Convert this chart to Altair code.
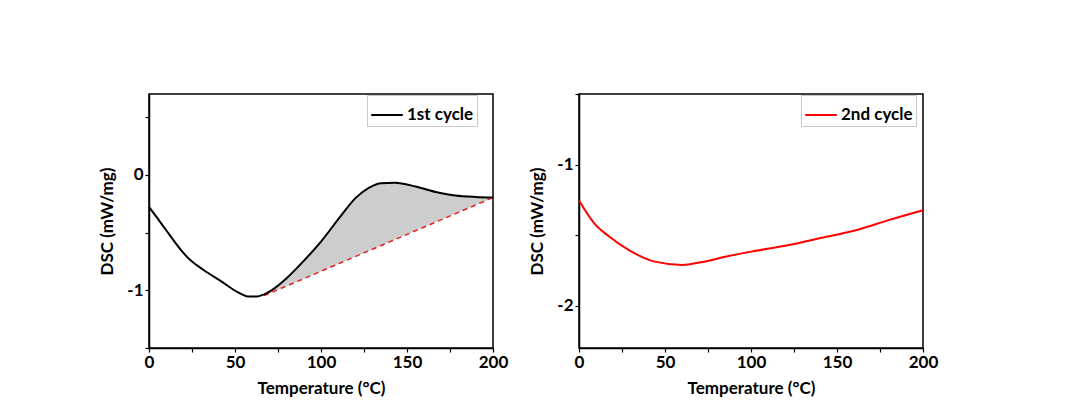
import altair as alt
import pandas as pd

# ---- data ----
c1_x = [0, 5, 10, 19.5, 22.5, 32, 42, 51.5, 57.5, 63, 67, 71, 80, 90, 100, 112, 120, 128, 135, 143,
        155, 168, 178, 190, 200]
c1_y = [-0.278, -0.378, -0.48, -0.668, -0.717, -0.827, -0.923, -1.016, -1.053, -1.053, -1.035, -1.003,
        -0.896, -0.745, -0.578, -0.347, -0.202, -0.110, -0.072, -0.069, -0.101, -0.153, -0.179, -0.192,
        -0.197]
base_x = [67, 200]
base_y = [-1.046, -0.197]

c2_x = [0, 9, 17, 29, 44, 60, 71, 87, 102, 122, 141, 161, 180, 200]
c2_y = [-1.254, -1.418, -1.505, -1.606, -1.688, -1.711, -1.692, -1.648, -1.613, -1.570, -1.519,
        -1.465, -1.394, -1.324]

x_ticks = [0, 25, 50, 75, 100, 125, 150, 175, 200]
y1_ticks = [-1.5, -1.0, -0.5, 0.0, 0.5]
y2_ticks = [-2.5, -2.0, -1.5, -1.0, -0.5]

FONT = "Lato"

df1 = pd.DataFrame({"T": c1_x, "DSC": c1_y, "series": "1st cycle"})
df2 = pd.DataFrame({"T": c2_x, "DSC": c2_y, "series": "2nd cycle"})
dfb = pd.DataFrame({"T": base_x, "DSC": base_y})


def base_at(t):
    return base_y[0] + (base_y[1] - base_y[0]) * (t - base_x[0]) / (base_x[1] - base_x[0])


area_rows = [{"T": t, "top": v, "bot": base_at(t)} for t, v in zip(c1_x, c1_y) if t >= base_x[0]]
dfa = pd.DataFrame(area_rows)

W, H = 344, 254

x_axis = alt.Axis(values=x_ticks, labelExpr="datum.value % 50 == 0 ? datum.label : ''",
                  title="Temperature (°C)", grid=False)


def y_axis(vals):
    return alt.Axis(values=vals, labelExpr="datum.value % 1 == 0 ? '' + datum.value : ''",
                    title="DSC (mW/mg)", grid=False)


xs = alt.Scale(domain=[0, 200], nice=False, zero=False)
ys1 = alt.Scale(domain=[-1.5, 0.7], nice=False, zero=False)
ys2 = alt.Scale(domain=[-2.3, -0.5], nice=False, zero=False)

area = alt.Chart(dfa).mark_area(color="#b8b8b8", opacity=0.7, interpolate="monotone").encode(
    x=alt.X("T:Q", scale=xs, axis=x_axis),
    y=alt.Y("top:Q", scale=ys1, axis=y_axis(y1_ticks)),
    y2="bot:Q",
)

line1 = alt.Chart(df1).mark_line(strokeWidth=2, interpolate="monotone").encode(
    x=alt.X("T:Q", scale=xs, axis=x_axis),
    y=alt.Y("DSC:Q", scale=ys1, axis=y_axis(y1_ticks)),
    color=alt.Color("series:N", scale=alt.Scale(domain=["1st cycle"], range=["black"]),
                    legend=alt.Legend(title=None, orient="none", legendX=218, legendY=1)),
)

base = alt.Chart(dfb).mark_line(color="#e8201e", strokeWidth=1.5, strokeDash=[5, 4]).encode(
    x=alt.X("T:Q", scale=xs),
    y=alt.Y("DSC:Q"),
)

left = alt.layer(area, base, line1).properties(width=W, height=H)

line2 = alt.Chart(df2).mark_line(strokeWidth=2, interpolate="monotone").encode(
    x=alt.X("T:Q", scale=xs, axis=x_axis),
    y=alt.Y("DSC:Q", scale=ys2, axis=y_axis(y2_ticks)),
    color=alt.Color("series:N", scale=alt.Scale(domain=["2nd cycle"], range=["#ff0000"]),
                    legend=alt.Legend(title=None, orient="none", legendX=222, legendY=1)),
)
right = line2.properties(width=W, height=H)

chart = alt.hconcat(left, right, spacing=19).resolve_scale(color="independent").properties(
    padding={"left": 90, "top": 84, "right": 5, "bottom": 5}
).configure_view(
    stroke="black", strokeWidth=1.5
).configure_axis(
    domainColor="black", domainWidth=1.5, tickColor="black", tickSize=4, tickWidth=1.2,
    labelFont=FONT, labelFontSize=17, labelFontWeight="bold", labelColor="black", labelPadding=2,
    titleFont=FONT, titleFontSize=17, titleFontWeight="bold", titleColor="black", titlePadding=10,
    labelFlush=False,
).configure_legend(
    labelFont=FONT, labelFontSize=17, labelFontWeight="bold", labelColor="black",
    symbolType="stroke", symbolStrokeWidth=2, symbolSize=1000, strokeColor="#c8c8c8",
    fillColor="white", padding=3, labelLimit=200, labelOffset=3,
)

chart.save("out.html", embed_options={"renderer": "svg", "actions": False})
